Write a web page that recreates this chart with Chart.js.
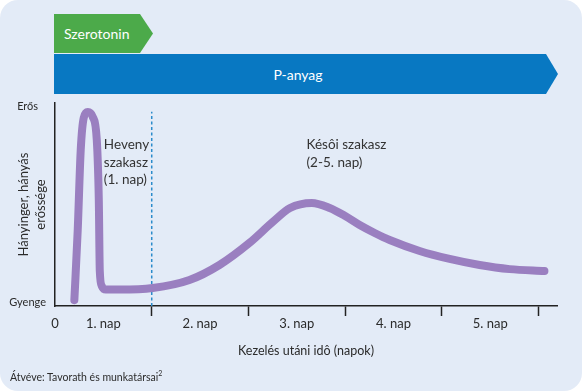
<!DOCTYPE html>
<html>
<head>
<meta charset="utf-8">
<script src="https://cdn.jsdelivr.net/npm/chart.js@4.4.1/dist/chart.umd.min.js"></script>
<style>
  html, body { margin: 0; padding: 0; background: #fff; }
  #wrap {
    position: relative; width: 582px; height: 391px;
    background: #e3ebf7; border-radius: 18px; overflow: hidden;
    font-family: Lato, "Open Sans", sans-serif;
  }
  #wrap canvas { position: absolute; left: 0; top: 0; }
  .arrow {
    position: absolute; color: #fff; font-size: 14px;
    display: flex; align-items: center;
  }
  #sero {
    left: 54px; top: 14px; width: 99px; height: 39px; background: #4caa4a;
    clip-path: polygon(0 0, 86px 0, 100% 50%, 86px 100%, 0 100%);
    padding-left: 10px; box-sizing: border-box;
  }
  #subp {
    left: 54px; top: 54px; width: 504px; height: 40px; background: #0878c2;
    clip-path: polygon(0 0, 492px 0, 100% 50%, 492px 100%, 0 100%);
    justify-content: center; padding-right: 16px; box-sizing: border-box;
  }
  #source {
    position: absolute; left: 10px; top: 369px; font-size: 10.5px; color: #2b2b2b;
  }
  #source sup { font-size: 7px; }
</style>
</head>
<body>
<div id="wrap">
  <canvas id="chart" width="582" height="391"></canvas>
  <div class="arrow" id="sero">Szerotonin</div>
  <div class="arrow" id="subp">P-anyag</div>
  <div id="source">Átvéve: Tavorath és munkatársai<sup>2</sup></div>
</div>
<script>
// days after treatment vs. nausea/vomiting severity (0 = weak, 10 = strong)
const days = [0.20, 0.235, 0.266, 0.297, 0.339, 0.39, 0.432, 0.453, 0.463, 0.484, 0.525, 0.67,
  1.01, 1.39, 1.70, 2.01, 2.25, 2.43, 2.655, 2.84, 3.0, 3.15, 3.305, 3.46, 3.77, 4.08, 4.39, 4.70, 5.06];
const severity = [0.1, 3.7, 7.8, 9.44, 9.74, 9.49, 8.3, 5.2, 1.6, 0.82, 0.64, 0.64,
  0.72, 1.13, 1.90, 3.03, 4.10, 4.82, 5.08, 4.82, 4.41, 3.95, 3.54, 3.18, 2.62, 2.21, 1.90, 1.69, 1.59];

// end of the acute phase
const boundaryDays = [1, 1];
const boundaryLevels = [-0.2, 9.75];

const tickDays = [1, 2, 3, 4, 5];
const labelDays = [0, 0.5, 1.5, 2.5, 3.5, 4.5];
const dayLabels = ['0', '1. nap', '2. nap', '3. nap', '4. nap', '5. nap'];
const levelTicks = [0, 10];
const levelLabels = ['Gyenge', 'Erős'];

const notes = [
  { lines: ['Heveny', 'szakasz', '(1. nap)'], x: 0.505, y: 8.05 },
  { lines: ['Késôi szakasz', '(2-5. nap)'], x: 2.6, y: 8.05 }
];

const FONT = 'Lato, "Open Sans", sans-serif';
const TEXT = '#2b2b2b';

const notesPlugin = {
  id: 'notes',
  afterDatasetsDraw(chart) {
    const ctx = chart.ctx;
    const xs = chart.scales.x, ys = chart.scales.y;
    ctx.save();
    ctx.font = '13.5px ' + FONT;
    ctx.fillStyle = '#333';
    ctx.textAlign = 'left';
    ctx.textBaseline = 'middle';
    notes.forEach(n => {
      const px = xs.getPixelForValue(n.x);
      const py = ys.getPixelForValue(n.y);
      n.lines.forEach((t, i) => ctx.fillText(t, px, py + i * 17.5));
    });
    ctx.restore();
  }
};

new Chart(document.getElementById('chart'), {
  type: 'line',
  data: {
    datasets: [
      {
        data: days.map((d, i) => ({ x: d, y: severity[i] })),
        borderColor: '#9a7fc0',
        borderWidth: 8,
        borderCapStyle: 'round',
        borderJoinStyle: 'round',
        cubicInterpolationMode: 'monotone',
        pointRadius: 0,
        fill: false
      },
      {
        data: boundaryDays.map((d, i) => ({ x: d, y: boundaryLevels[i] })),
        borderColor: '#2a8bcb',
        borderWidth: 1.5,
        borderDash: [3, 2.5],
        pointRadius: 0,
        fill: false
      }
    ]
  },
  options: {
    responsive: false,
    animation: false,
    clip: false,
    layout: { padding: { top: 103, right: 25, left: 0, bottom: 0 } },
    plugins: { legend: { display: false }, tooltip: { enabled: false } },
    scales: {
      x: {
        type: 'linear',
        min: 0,
        max: 5.19,
        afterBuildTicks: s => {
          s.ticks = [...labelDays, ...tickDays].sort((a, b) => a - b).map(v => ({ value: v }));
        },
        afterFit: s => { s.height = 85; },
        ticks: {
          autoSkip: false,
          maxRotation: 0,
          padding: 0,
          color: TEXT,
          font: { family: FONT, size: 13 },
          callback: v => {
            const i = labelDays.indexOf(v);
            return i >= 0 ? dayLabels[i] : '';
          }
        },
        grid: {
          drawOnChartArea: false,
          tickLength: 10,
          tickWidth: 1.5,
          tickColor: c => tickDays.includes(c.tick.value) ? '#222' : 'rgba(0,0,0,0)'
        },
        border: { color: '#222', width: 1.5 },
        title: {
          display: true,
          text: 'Kezelés utáni idô (napok)',
          color: TEXT,
          font: { family: FONT, size: 12.5 },
          padding: { top: 0, bottom: 33 }
        }
      },
      y: {
        min: -0.2,
        max: 10.2,
        afterBuildTicks: s => { s.ticks = levelTicks.map(v => ({ value: v })); },
        afterFit: s => { s.width = 55; },
        ticks: {
          padding: 1,
          crossAlign: 'center',
          color: TEXT,
          font: { family: FONT, size: 11 },
          callback: v => levelLabels[levelTicks.indexOf(v)]
        },
        grid: { display: false },
        border: { display: true, color: '#222', width: 1.5 },
        title: {
          display: true,
          text: ['Hányinger, hányás', 'erőssége'],
          color: TEXT,
          font: { family: FONT, size: 13, lineHeight: 1.25 },
          padding: { top: 16, bottom: 0 }
        }
      }
    }
  },
  plugins: [notesPlugin]
});
</script>
</body>
</html>
